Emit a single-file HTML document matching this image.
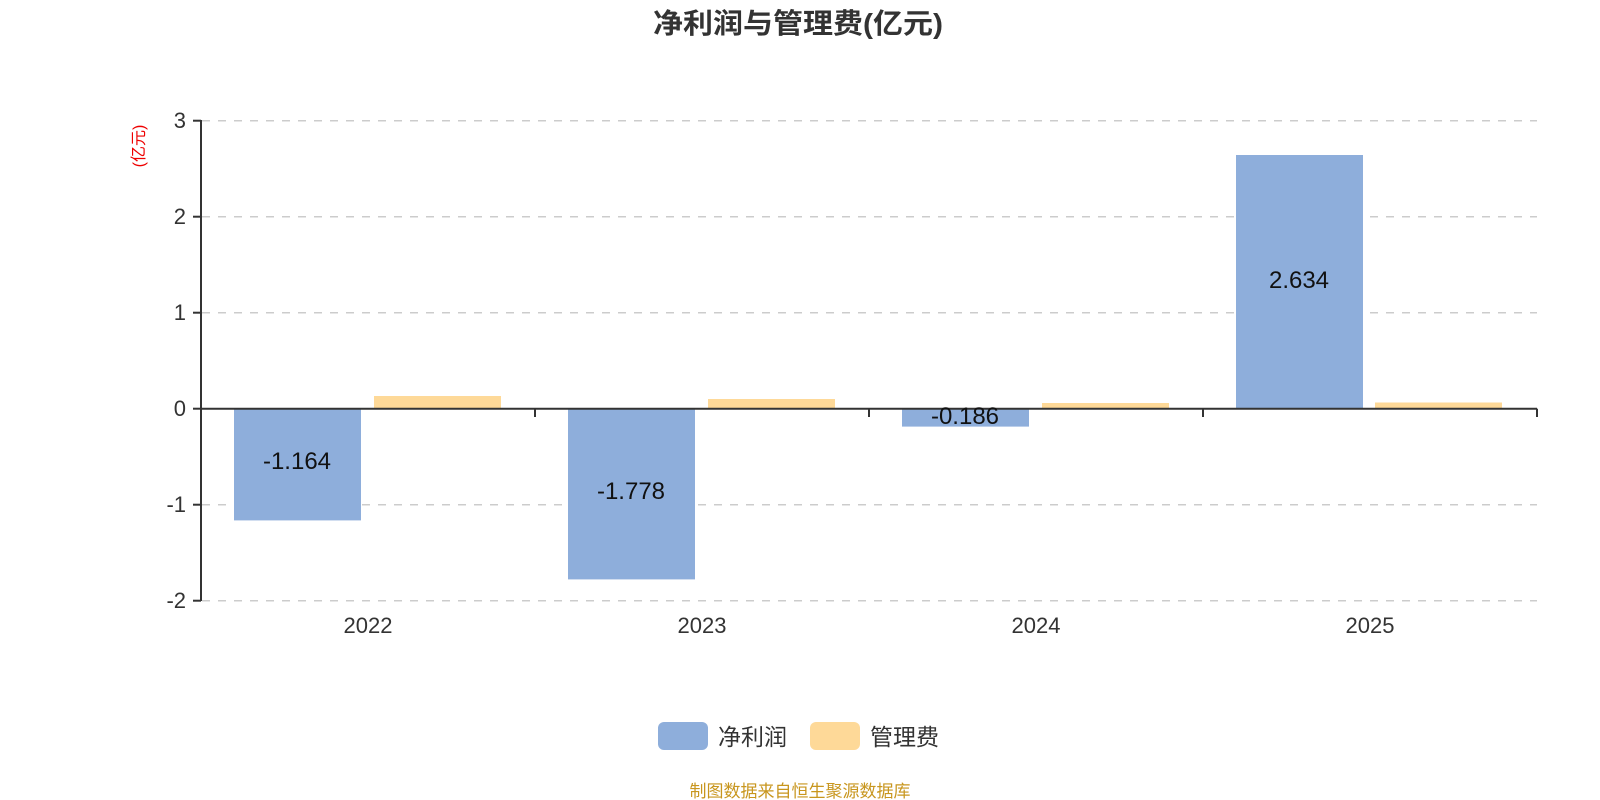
<!DOCTYPE html>
<html><head><meta charset="utf-8"><style>
html,body{margin:0;padding:0;background:#fff;}
svg{display:block;font-family:"Liberation Sans","Noto Sans CJK SC",sans-serif;}
</style></head><body>
<svg width="1600" height="800" viewBox="0 0 1600 800" xmlns="http://www.w3.org/2000/svg">
<text x="798" y="33" text-anchor="middle" font-size="28" font-weight="bold" fill="#333" textLength="290" lengthAdjust="spacingAndGlyphs">净利润与管理费(亿元)</text>
<text transform="translate(144,146) rotate(-90)" text-anchor="middle" font-size="16" fill="#e00">(亿元)</text>
<g stroke="#ccc" stroke-width="1.5" stroke-dasharray="8,8">
<line x1="202" y1="120.7" x2="1537" y2="120.7"/>
<line x1="202" y1="216.7" x2="1537" y2="216.7"/>
<line x1="202" y1="312.7" x2="1537" y2="312.7"/>
<line x1="202" y1="504.7" x2="1537" y2="504.7"/>
<line x1="202" y1="600.7" x2="1537" y2="600.7"/>
</g>
<g fill="#8eaedb">
<rect x="234" y="408.7" width="127" height="111.7"/>
<rect x="568" y="408.7" width="127" height="170.7"/>
<rect x="902" y="408.7" width="127" height="17.9"/>
<rect x="1236" y="155" width="127" height="253.7"/>
</g>
<g fill="#fed998">
<rect x="374" y="396" width="127" height="12.7"/>
<rect x="708" y="399" width="127" height="9.7"/>
<rect x="1042" y="403" width="127" height="5.7"/>
<rect x="1375" y="402.5" width="127" height="6.2"/>
</g>
<g stroke="#333" stroke-width="2" fill="none">
<line x1="201" y1="120" x2="201" y2="601"/>
<line x1="200" y1="408.7" x2="1537" y2="408.7"/>
<line x1="193" y1="120.7" x2="201" y2="120.7"/>
<line x1="193" y1="216.7" x2="201" y2="216.7"/>
<line x1="193" y1="312.7" x2="201" y2="312.7"/>
<line x1="193" y1="408.7" x2="201" y2="408.7"/>
<line x1="193" y1="504.7" x2="201" y2="504.7"/>
<line x1="193" y1="600.7" x2="201" y2="600.7"/>
<line x1="535" y1="408.7" x2="535" y2="417"/>
<line x1="869" y1="408.7" x2="869" y2="417"/>
<line x1="1203" y1="408.7" x2="1203" y2="417"/>
<line x1="1537" y1="408.7" x2="1537" y2="417"/>
</g>
<g font-size="22" fill="#333" text-anchor="end">
<text x="186" y="128">3</text>
<text x="186" y="224">2</text>
<text x="186" y="320">1</text>
<text x="186" y="416">0</text>
<text x="186" y="512">-1</text>
<text x="186" y="608">-2</text>
</g>
<g font-size="22" fill="#333" text-anchor="middle">
<text x="368" y="633">2022</text>
<text x="702" y="633">2023</text>
<text x="1036" y="633">2024</text>
<text x="1370" y="633">2025</text>
</g>
<g font-size="24" fill="#111" text-anchor="middle">
<text x="297" y="469">-1.164</text>
<text x="631" y="499">-1.778</text>
<text x="965" y="424">-0.186</text>
<text x="1299" y="288">2.634</text>
</g>
<rect x="658" y="722" width="50" height="28" rx="6" fill="#8eaedb"/>
<text x="718" y="745" font-size="23" fill="#333">净利润</text>
<rect x="810" y="722" width="50" height="28" rx="6" fill="#fed998"/>
<text x="870" y="745" font-size="23" fill="#333">管理费</text>
<text x="800" y="797" text-anchor="middle" font-size="17" fill="#c8961e">制图数据来自恒生聚源数据库</text>
</svg>
</body></html>
